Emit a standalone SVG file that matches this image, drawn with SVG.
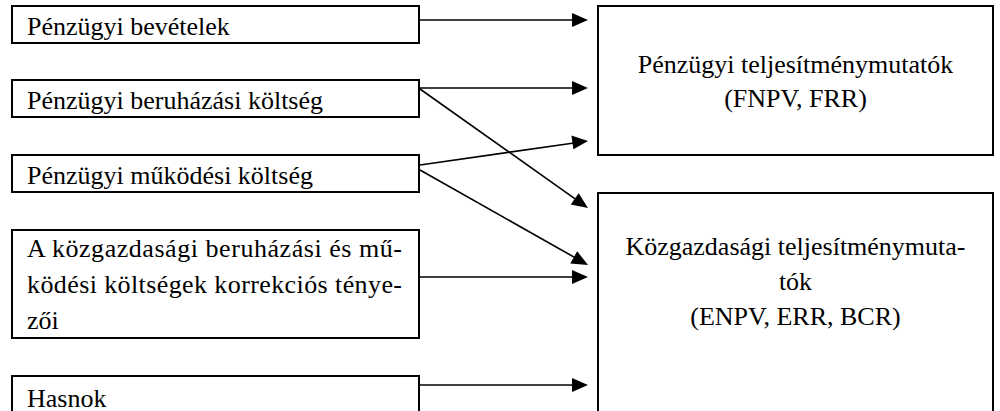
<svg xmlns="http://www.w3.org/2000/svg" width="1000" height="411" viewBox="0 0 1000 411">
<rect width="1000" height="411" fill="#fff"/>
<g id="n1"><rect x="12" y="6" width="407" height="37" fill="#fff" stroke="#000" stroke-width="2"/><text x="27" y="35" font-size="26" font-family="Liberation Serif">Pénzügyi bevételek</text></g>
<g id="n2"><rect x="12" y="80" width="407" height="37" fill="#fff" stroke="#000" stroke-width="2"/><text x="27" y="109" font-size="26" font-family="Liberation Serif">Pénzügyi beruházási költség</text></g>
<g id="n3"><rect x="12" y="155" width="407" height="37" fill="#fff" stroke="#000" stroke-width="2"/><text x="27" y="184" font-size="26" font-family="Liberation Serif">Pénzügyi működési költség</text></g>
<g id="n4"><rect x="12" y="230" width="407" height="108" fill="#fff" stroke="#000" stroke-width="2"/>
<text x="27" y="257" font-size="26" font-family="Liberation Serif" textLength="375" lengthAdjust="spacing">A közgazdasági beruházási és mű-</text>
<text x="27" y="293" font-size="26" font-family="Liberation Serif" textLength="375" lengthAdjust="spacing">ködési költségek korrekciós ténye-</text>
<text x="27" y="329" font-size="26" font-family="Liberation Serif">zői</text></g>
<g id="n5"><rect x="12" y="376" width="407" height="50" fill="#fff" stroke="#000" stroke-width="2"/><text x="27" y="407" font-size="26" font-family="Liberation Serif">Hasnok</text></g>
<g id="r1"><rect x="598" y="6" width="395" height="149" fill="#fff" stroke="#000" stroke-width="2"/>
<text x="795.5" y="72.5" font-size="26" font-family="Liberation Serif" text-anchor="middle">Pénzügyi teljesítménymutatók</text>
<text x="795.5" y="107" font-size="26" font-family="Liberation Serif" text-anchor="middle">(FNPV, FRR)</text></g>
<g id="r2"><rect x="598" y="193" width="395" height="240" fill="#fff" stroke="#000" stroke-width="2"/>
<text x="795.5" y="255" font-size="26" font-family="Liberation Serif" text-anchor="middle">Közgazdasági teljesítménymuta-</text>
<text x="795.5" y="290" font-size="26" font-family="Liberation Serif" text-anchor="middle">tók</text>
<text x="795.5" y="325" font-size="26" font-family="Liberation Serif" text-anchor="middle">(ENPV, ERR, BCR)</text></g>
<g id="connectors" stroke="#000" stroke-width="1.6">
<line x1="420" y1="20" x2="574" y2="20"/>
<polygon points="588,20 572,13 572,27" fill="#000" stroke="none"/>
<line x1="420" y1="88" x2="574" y2="88"/>
<polygon points="588,88 572,81 572,95" fill="#000" stroke="none"/>
<line x1="420" y1="89" x2="576.5" y2="199.8"/>
<polygon points="588,208 578.7,193.2 570.7,204.6" fill="#000" stroke="none"/>
<line x1="420" y1="165" x2="574" y2="143"/>
<polygon points="588,141 571.4,135.4 573.4,149.3" fill="#000" stroke="none"/>
<line x1="420" y1="170" x2="575.8" y2="258.1"/>
<polygon points="588,265 577.2,251.3 570.3,263.5" fill="#000" stroke="none"/>
<line x1="420" y1="277" x2="574" y2="277"/>
<polygon points="588,277 572,270 572,284" fill="#000" stroke="none"/>
<line x1="420" y1="385" x2="574" y2="385"/>
<polygon points="588,385 572,378 572,392" fill="#000" stroke="none"/>
</g>
</svg>
